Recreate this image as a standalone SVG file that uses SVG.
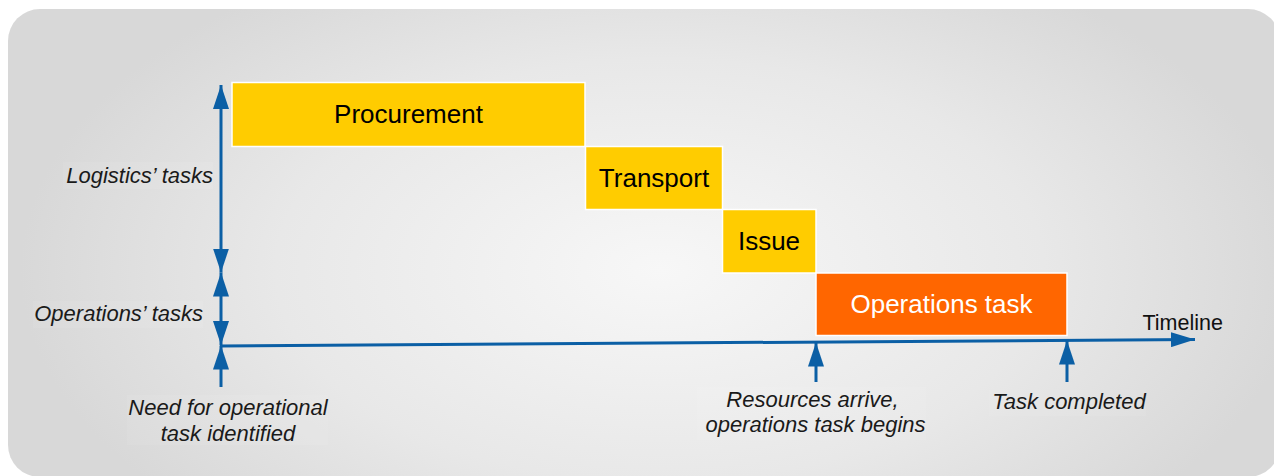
<svg xmlns="http://www.w3.org/2000/svg" width="1274" height="476" viewBox="0 0 1274 476">
  <defs>
    <radialGradient id="bg" cx="660" cy="270" r="640" gradientUnits="userSpaceOnUse" gradientTransform="translate(660 270) scale(1 0.55) translate(-660 -270)">
      <stop offset="0" stop-color="#f7f7f7"/>
      <stop offset="0.6" stop-color="#e8e8e8"/>
      <stop offset="1" stop-color="#d8d8d8"/>
    </radialGradient>
    <marker id="ah" viewBox="0 0 24 16" refX="24" refY="8" markerWidth="24" markerHeight="16" markerUnits="userSpaceOnUse" orient="auto-start-reverse">
      <path d="M0,0 L24,8 L0,16 Z" fill="#0b5fa5"/>
    </marker>
    <marker id="ahT" viewBox="0 0 24 15" refX="24" refY="7.5" markerWidth="24" markerHeight="15" markerUnits="userSpaceOnUse" orient="auto">
      <path d="M0,0 L24,7.5 L0,15 Z" fill="#0b5fa5"/>
    </marker>
  </defs>
  <style>
    .box { stroke: #ffffff; stroke-width: 1.5; }
    .yel { fill: #ffcc00; }
    .org { fill: #ff6600; }
    .blab { font-family: "Liberation Sans", Arial, sans-serif; font-size: 26px; text-anchor: middle; }
    .ilab { font-family: "Liberation Sans", Arial, sans-serif; font-size: 22px; font-style: italic; fill: #1a1a1a; }
    .lbg { fill: #ffffff; fill-opacity: 0.07; }
    .ax { stroke: #0b5fa5; stroke-width: 3; fill: none; }
  </style>

  <rect x="8" y="9" width="1272" height="468" rx="32" ry="32" fill="url(#bg)"/>

  <g id="procurement">
    <rect class="box yel" x="232" y="82.5" width="353" height="64"/>
    <text class="blab" x="408.5" y="123" fill="#000">Procurement</text>
  </g>
  <g id="transport">
    <rect class="box yel" x="585.5" y="146.5" width="137" height="63"/>
    <text class="blab" x="654" y="186.5" fill="#000">Transport</text>
  </g>
  <g id="issue">
    <rect class="box yel" x="722.5" y="209.5" width="93.5" height="63.5"/>
    <text class="blab" x="769" y="249.5" fill="#000">Issue</text>
  </g>
  <g id="operations-task">
    <rect class="box org" x="816" y="273" width="251" height="62.5"/>
    <text class="blab" x="941.5" y="313" fill="#ffffff">Operations task</text>
  </g>

  <g id="connectors">
    <line class="ax" x1="221" y1="272.5" x2="221" y2="85" marker-start="url(#ah)" marker-end="url(#ah)"/>
    <line class="ax" x1="221" y1="272.5" x2="221" y2="345" marker-start="url(#ah)" marker-end="url(#ah)"/>
    <line class="ax" x1="221" y1="387" x2="221" y2="345.5" marker-end="url(#ah)"/>
    <line class="ax" x1="220" y1="346" x2="1195" y2="339.5" marker-end="url(#ahT)"/>
    <line class="ax" x1="816" y1="382" x2="816" y2="342.5" marker-end="url(#ah)"/>
    <line class="ax" x1="1067" y1="382" x2="1067" y2="340.5" marker-end="url(#ah)"/>
  </g>

  <g id="labels">
    <rect class="lbg" x="63" y="162" width="150" height="27"/>
    <text class="ilab" x="213" y="183" text-anchor="end">Logistics’ tasks</text>
    <rect class="lbg" x="33" y="301" width="170" height="27"/>
    <text class="ilab" x="203" y="321" text-anchor="end">Operations’ tasks</text>
    <rect class="lbg" x="127" y="395" width="201" height="50"/>
    <text class="ilab" x="228" y="415" text-anchor="middle">Need for operational</text>
    <text class="ilab" x="228" y="441" text-anchor="middle">task identified</text>
    <rect class="lbg" x="697" y="387" width="229" height="53"/>
    <text class="ilab" x="812.5" y="407" text-anchor="middle">Resources arrive,</text>
    <text class="ilab" x="815.5" y="432" text-anchor="middle">operations task begins</text>
    <rect class="lbg" x="989" y="390" width="157" height="26"/>
    <text class="ilab" x="1069" y="409" text-anchor="middle">Task completed</text>
    <text x="1142.5" y="330" font-family="'Liberation Sans', Arial, sans-serif" font-size="21.5" fill="#111">Timeline</text>
  </g>
</svg>
